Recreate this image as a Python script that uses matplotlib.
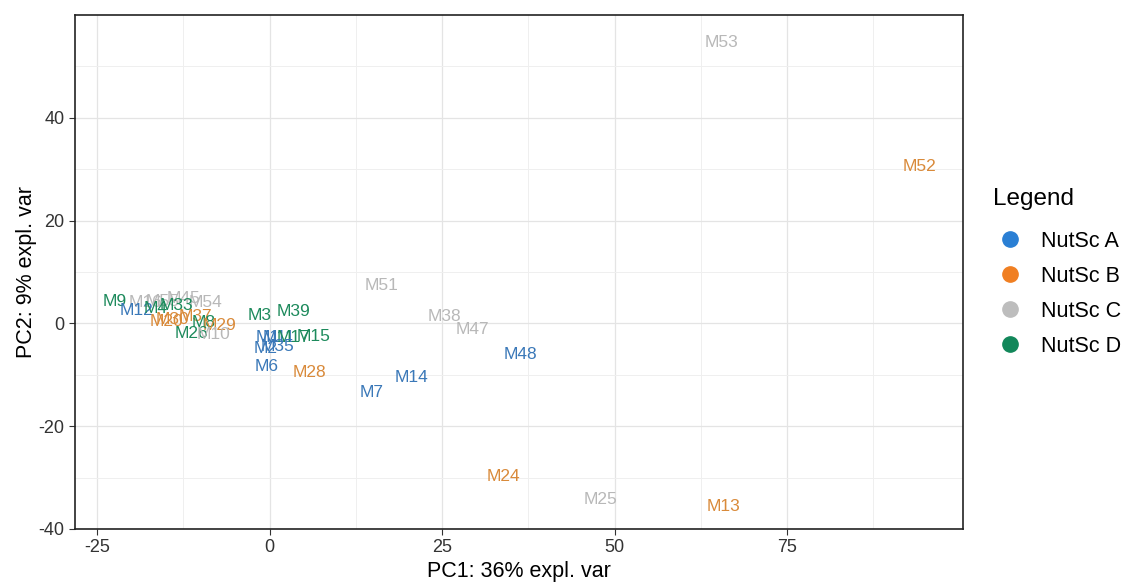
import matplotlib.pyplot as plt
from matplotlib.lines import Line2D

plt.rcParams['axes.unicode_minus'] = False
plt.rcParams['font.family'] = 'Liberation Sans'

# PCA sample scores (PC1, PC2) with sample names and group
names = ['M53', 'M52', 'M51', 'M38', 'M47', 'M48', 'M14', 'M7', 'M28',
         'M24', 'M25', 'M13', 'M6', 'M3', 'M39',
         'M1', 'M11', 'M17', 'M15', 'M2', 'M35',
         'M9', 'M16', 'M55', 'M45', 'M54', 'M12', 'M4', 'M33',
         'M20', 'M30', 'M37', 'M8', 'M29', 'M26', 'M10']
pc1 = [65.5, 94.2, 16.2, 25.4, 29.4, 36.4, 20.6, 14.8, 5.8,
       33.9, 48.0, 65.8, -0.4, -1.4, 3.5,
       -0.3, 1.4, 3.5, 6.4, -0.6, 1.2,
       -22.5, -18.0, -15.5, -12.5, -9.3, -19.3, -16.5, -13.5,
       -15.0, -14.0, -10.8, -9.6, -7.2, -11.3, -8.1]
pc2 = [54.6, 30.5, 7.4, 1.4, -1.2, -6.0, -10.5, -13.4, -9.5,
       -29.7, -34.2, -35.7, -8.3, 1.6, 2.3,
       -2.7, -2.7, -2.7, -2.5, -4.9, -4.5,
       4.3, 4.0, 4.2, 4.8, 4.0, 2.6, 3.0, 3.4,
       0.4, 0.8, 1.4, 0.2, -0.4, -2.0, -2.1]
group = ['C', 'B', 'C', 'C', 'C', 'A', 'A', 'A', 'B',
         'B', 'C', 'B', 'A', 'D', 'D',
         'A', 'A', 'D', 'D', 'A', 'A',
         'D', 'C', 'C', 'C', 'C', 'A', 'D', 'D',
         'B', 'B', 'B', 'D', 'B', 'D', 'C']

groups = ['A', 'B', 'C', 'D']
legend_labels = ['NutSc A', 'NutSc B', 'NutSc C', 'NutSc D']
text_col = {'A': '#3a78b8', 'B': '#d98a3a', 'C': '#b8b8b8', 'D': '#1d8a5c'}
dot_col = {'A': '#2a7fd4', 'B': '#f07f22', 'C': '#bdbdbd', 'D': '#12875a'}

fig = plt.figure(figsize=(11.22, 5.84), dpi=100)
ax = fig.add_axes([0.0668, 0.0942, 0.7915, 0.880])

for n, x, y, g in zip(names, pc1, pc2, group):
    ax.text(x, y, n, color=text_col[g], fontsize=12.5, ha='center', va='center')

ax.set_xlim(-28.2, 100.5)
ax.set_ylim(-40, 60)
ax.set_xticks([-25, 0, 25, 50, 75])
ax.set_yticks([-40, -20, 0, 20, 40])
ax.set_xticks([-12.5, 12.5, 37.5, 62.5, 87.5], minor=True)
ax.set_yticks([-30, -10, 10, 30, 50], minor=True)
ax.grid(True, which='major', color='#e4e4e4', lw=0.9)
ax.grid(True, which='minor', color='#efefef', lw=0.7)
ax.set_axisbelow(True)
for s in ax.spines.values():
    s.set_color('#222222')
    s.set_linewidth(1.2)
ax.tick_params(which='major', length=4, color='#333333', labelsize=13,
               labelcolor='#333333')
ax.tick_params(which='minor', length=0)

ax.set_xlabel('PC1: 36% expl. var', fontsize=15.5, labelpad=3)
ax.set_ylabel('PC2: 9% expl. var', fontsize=15.5, labelpad=1)

# legend title drawn separately so the gap above the keys is wider
fig.text(0.885, 1 - 199 / 584, 'Legend', fontsize=17.5, ha='left', va='center')
handles = [Line2D([], [], ls='', marker='o', ms=11, color=dot_col[g]) for g in groups]
leg = fig.legend(handles, legend_labels, loc='upper left',
                 bbox_to_anchor=(0.889, 1 - 231 / 584), frameon=False,
                 prop={'size': 15.5}, labelspacing=0.65, handletextpad=0.8,
                 handlelength=1.2, borderaxespad=0, borderpad=0)

fig.savefig('out.png', dpi=100, facecolor='white')
